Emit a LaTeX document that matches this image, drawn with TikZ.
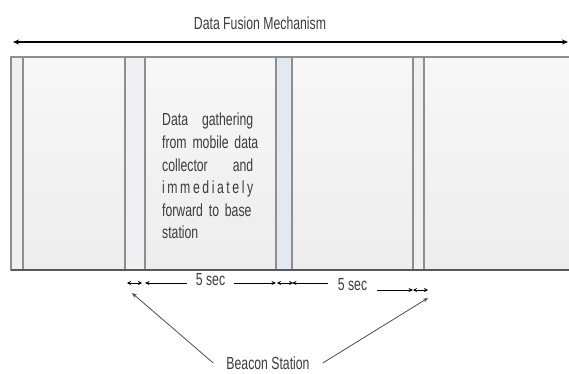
\documentclass[tikz,border=0pt]{standalone}
\usepackage{fontspec}
\setmainfont{Liberation Sans}[FakeStretch=0.7]
\usetikzlibrary{arrows.meta,calc,positioning}
\definecolor{frameline}{HTML}{8E8E8E}
\definecolor{slottop}{HTML}{F7F7F7}
\definecolor{slotbot}{HTML}{EDEDED}
\definecolor{stripgray}{HTML}{F0F0F3}
\definecolor{stripblue}{HTML}{E3E9F3}
\definecolor{inktext}{HTML}{3C3C3C}
\newcommand{\spread}[1]{\makebox[\linewidth][s]{#1}}
\begin{document}
\begin{tikzpicture}[x=1pt,y=-1pt,
    base/.style={draw=frameline,line width=1.1pt,minimum height=213pt,inner sep=0pt,outer sep=0pt},
    slot/.style={base,top color=slottop,bottom color=slotbot},
    beacon/.style={base,fill=#1},
    beacon/.default=stripgray,
    lbl/.style={text=inktext,font=\fontsize{17.5}{20}\selectfont,inner sep=0pt},
    span/.style={{Stealth[length=4pt,width=4pt]}-{Stealth[length=4pt,width=4pt]},line width=0.8pt},
    tick/.style={-{Stealth[length=4.5pt,width=4pt]},line width=0.8pt},
    pointer/.style={-{Stealth[length=5pt,width=4pt]},draw=black!70,line width=0.8pt}]
    \clip (0,0) rectangle (569,373);
    \node[lbl] (title) at (260,23) {Data Fusion Mechanism};
    \coordinate (la) at (13,42);
    \coordinate (ra) at (568,42);
    \draw[{Stealth[length=6pt,width=5pt]}-{Stealth[length=6pt,width=5pt]},line width=1.5pt] (la) -- (ra);
    \node[beacon,minimum width=12pt,anchor=north west] (s0) at (11,57) {};
    \node[slot,minimum width=102pt,right=0pt of s0] (p1) {};
    \node[beacon,minimum width=20pt,right=0pt of p1] (s1) {};
    \node[slot,minimum width=131pt,right=0pt of s1] (p2) {};
    \node[beacon=stripblue,minimum width=16pt,right=0pt of p2] (s2) {};
    \node[slot,minimum width=121pt,right=0pt of s2] (p3) {};
    \node[beacon,minimum width=11pt,right=0pt of p3] (s3) {};
    \node[slot,minimum width=160pt,right=0pt of s3] (p4) {};
    \draw[draw=black!65,line width=1.4pt] (s0.south west) -- (p4.south east);
    \node[lbl,text width=91pt,anchor=north west,font=\fontsize{17.5}{22.6}\selectfont] (note) at (162,113)
        {Data\hfill gathering\\
         \spread{from mobile data}\\
         collector\hfill and\\
         i\hfill m\hfill m\hfill e\hfill d\hfill i\hfill a\hfill t\hfill e\hfill l\hfill y\\
         \spread{forward to base}\\
         station};
    \draw[span] ($(s1.south west)+(2,13)$) -- ($(s1.south east)+(-3,13)$);
    \node[lbl,inner xsep=9pt] (t1) at ($(s1.south east)!0.5!(s2.south west)+(0,10)$) {5 sec};
    \draw[tick] ([yshift=-3pt]t1.west) -- ([yshift=-3pt]t1.west -| s1.east);
    \draw[tick] ([yshift=-3pt]t1.east) -- ([yshift=-3pt]t1.east -| s2.west);
    \draw[span] ($(s2.south west)+(1,13)$) -- ($(s2.south east)+(1,13)$);
    \node[lbl,inner xsep=10pt] (t2) at ($(s2.south east)!0.5!(s3.south west)+(0,15)$) {5 sec};
    \draw[tick] ([yshift=2pt]t2.west) -- ([yshift=2pt]t2.west -| s2.east);
    \draw[tick] ([yshift=-5pt]t2.east) -- ([yshift=-5pt]t2.east -| s3.west);
    \draw[span] ($(s3.south west)+(0,20)$) -- ($(s3.south east)+(4,20)$);
    \coordinate (tip1) at ($(s1.south west)+(7,23)$);
    \coordinate (tip2) at ($(s3.south east)+(4,28)$);
    \node[lbl,inner xsep=13pt] (bs) at (268,363) {Beacon Station};
    \draw[pointer] (bs.west) -- (tip1);
    \draw[pointer] (bs.east) -- (tip2);
\end{tikzpicture}
\end{document}
